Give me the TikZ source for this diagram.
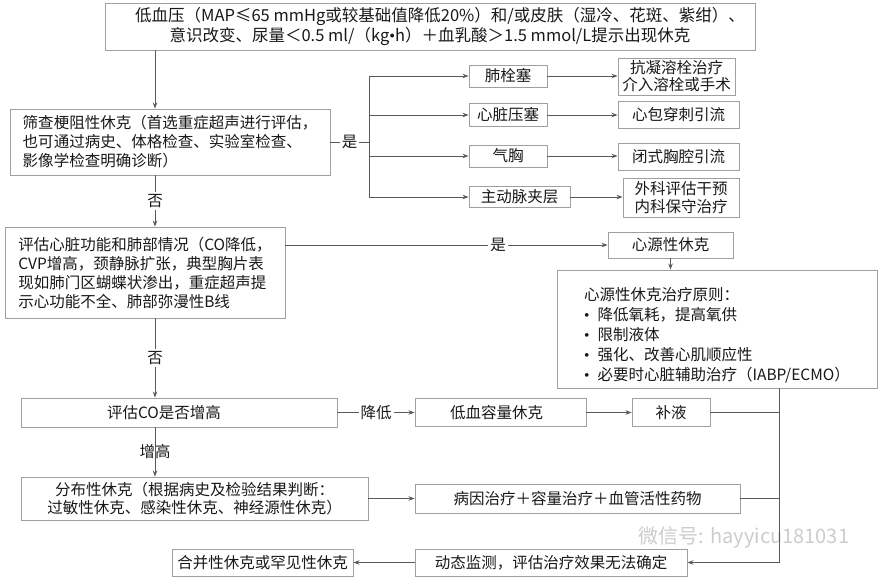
\documentclass[tikz,border=0pt]{standalone}
\usepackage{fontspec}
\setmainfont{Noto Sans CJK SC}
\newfontfamily\dotfont{Liberation Serif}
\usetikzlibrary{arrows.meta}

\newcommand{\bulletitem}{{\dotfont •}\hspace{8pt}}

\begin{document}
\begin{tikzpicture}[
    x=1pt, y=-1pt,
    font=\fontsize{15.5}{19}\selectfont,
    box/.style={rectangle, draw=gray!75, line width=0.9pt, fill=white, text=black!90, inner sep=3pt},
    textbox/.style={box, align=left},
    flow_line/.style={draw=black!65, line width=0.9pt},
    flow_arrow/.style={-{Stealth[length=6pt, width=4.5pt]}, draw=black!65, line width=0.9pt},
    branch_label/.style={fill=white, inner sep=2pt, text=black!90},
    plain_label/.style={inner sep=1pt, text=black!90},
    mark_text/.style={text=gray!40, font=\fontsize{20}{20}\selectfont}
]
    \useasboundingbox (0,0) rectangle (886,578);
    % Rails
    \coordinate (spine) at (155,0);
    \coordinate (rail) at (779,0);
    % Onset
    \node[box, minimum width=650pt, minimum height=47pt, align=center, font=\fontsize{16.5}{20}\selectfont] (onset) at (430,26.5) {\hspace*{20pt}低血压（MAP≤65 mmHg或较基础值降低20\%）和/或皮肤（湿冷、花斑、紫绀）、\\意识改变、尿量＜0.5 ml/（kg{\dotfont •}h）＋血乳酸＞1.5 mmol/L提示出现休克};
    % Obstructive shock
    \node[textbox, minimum width=320pt, minimum height=66pt] (screen) at (170,142) {筛查梗阻性休克（首选重症超声进行评估，\\也可通过病史、体格检查、实验室检查、\\影像学检查明确诊断）};
    \coordinate (fork) at (369,142);
    \coordinate (fork_top) at (369,76);
    \coordinate (fork_bot) at (369,197);
    \node[box, minimum width=78pt, minimum height=22pt] (pe) at (508,76) {肺栓塞};
    \node[box, minimum width=78pt, minimum height=23pt] (tamponade) at (508,115) {心脏压塞};
    \node[box, minimum width=78pt, minimum height=22pt] (ptx) at (508,156) {气胸};
    \node[box, minimum width=101pt, minimum height=21pt] (dissect) at (519.5,197) {主动脉夹层};
    \node[box, minimum width=117pt, minimum height=37pt, inner ysep=1pt, align=center, font=\fontsize{15.5}{17}\selectfont] (pe_tx) at (676.5,76.5) {抗凝溶栓治疗\\介入溶栓或手术};
    \node[box, minimum width=121pt, minimum height=27pt] (tamponade_tx) at (678.5,114.5) {心包穿刺引流};
    \node[box, minimum width=121pt, minimum height=27pt] (ptx_tx) at (678.5,156.5) {闭式胸腔引流};
    \node[box, minimum width=116pt, minimum height=39pt, inner ysep=1pt, align=center, font=\fontsize{15.5}{18}\selectfont] (dissect_tx) at (681,197.5) {外科评估干预\\内科保守治疗};
    % Cardiogenic shock
    \node[textbox, minimum width=280pt, minimum height=91pt] (cardiac) at (145,272.5) {评估心脏功能和肺部情况（CO降低，\\CVP增高，颈静脉扩张，典型胸片表\\现如肺门区蝴蝶状渗出，重症超声提\\示心功能不全、肺部弥漫性B线};
    \node[box, minimum width=125pt, minimum height=26pt] (cardiogenic) at (670.5,245) {心源性休克};
    \node[textbox, minimum width=320pt, minimum height=118pt, font=\fontsize{15.5}{20}\selectfont] (cardio_tx) at (717,329) {\rule{0pt}{26pt}心源性休克治疗原则：\\\bulletitem 降低氧耗，提高氧供\\\bulletitem 限制液体\\\bulletitem 强化、改善心肌顺应性\\\bulletitem 必要时心脏辅助治疗（IABP/ECMO）};
    % Hypovolemic and distributive shock
    \node[box, minimum width=316pt, minimum height=29pt] (co) at (179,412.5) {评估CO是否增高\hspace*{30pt}};
    \node[box, minimum width=171pt, minimum height=28pt] (hypovol) at (500.5,412.5) {低血容量休克\hspace*{8pt}};
    \node[box, minimum width=78pt, minimum height=28pt] (fluids) at (671,412.5) {补液};
    \node[box, minimum width=347pt, minimum height=43pt, inner ysep=1pt, align=center, font=\fontsize{15.5}{18}\selectfont] (distrib) at (194.5,498.5) {分布性休克（根据病史及检验结果判断：\\过敏性休克、感染性休克、神经源性休克）};
    \node[box, minimum width=325pt, minimum height=29pt] (cause_tx) at (577.5,498.5) {病因治疗＋容量治疗＋血管活性药物};
    % Reassessment
    \node[box, minimum width=272pt, minimum height=27pt] (monitor) at (551,562.5) {动态监测，评估治疗效果无法确定};
    \node[box, minimum width=181pt, minimum height=27pt] (rare) at (262.5,562.5) {合并性休克或罕见性休克};
    % Watermark
    \node[mark_text] (wechat) at (744,537) {微信号: hayyicu181031};
    % Arrows
    \draw[flow_arrow] (onset.south -| spine) -- (screen.north -| spine);
    \draw[flow_line] (screen.east) -- node[branch_label]{是} (fork);
    \draw[flow_line] (fork_top) -- (fork_bot);
    \draw[flow_arrow] (fork_top |- pe) -- (pe);
    \draw[flow_arrow] (fork_top |- tamponade) -- (tamponade);
    \draw[flow_arrow] (fork_top |- ptx) -- (ptx);
    \draw[flow_arrow] (fork_top |- dissect) -- (dissect);
    \draw[flow_arrow] (pe.east) -- (pe.east -| pe_tx.west);
    \draw[flow_arrow] (tamponade.east) -- (tamponade.east -| tamponade_tx.west);
    \draw[flow_arrow] (ptx.east) -- (ptx.east -| ptx_tx.west);
    \draw[flow_arrow] (dissect.east) -- (dissect.east -| dissect_tx.west);
    \draw[flow_arrow] (screen.south -| spine) -- node[branch_label]{否} (cardiac.north -| spine);
    \draw[flow_arrow] (cardiac.east |- cardiogenic) -- node[branch_label, pos=0.66]{是} (cardiogenic);
    \draw[flow_arrow] (cardiogenic.south) -- (cardiogenic.south |- cardio_tx.north);
    \draw[flow_arrow] (cardiac.south -| spine) -- node[branch_label]{否} (co.north -| spine);
    \draw[flow_arrow] (co) -- node[branch_label]{降低} (hypovol);
    \draw[flow_arrow] (hypovol) -- (fluids);
    \draw[flow_arrow] (co.south -| spine) -- node[plain_label]{增高} (distrib.north -| spine);
    \draw[flow_arrow] (distrib) -- (cause_tx);
    \draw[flow_line] (fluids.east) -- (fluids.east -| rail);
    \draw[flow_line] (cause_tx.east) -- (cause_tx.east -| rail);
    \draw[flow_arrow] (cardio_tx.south -| rail) |- (monitor);
    \draw[flow_arrow] (monitor) -- (rare);
\end{tikzpicture}
\end{document}
